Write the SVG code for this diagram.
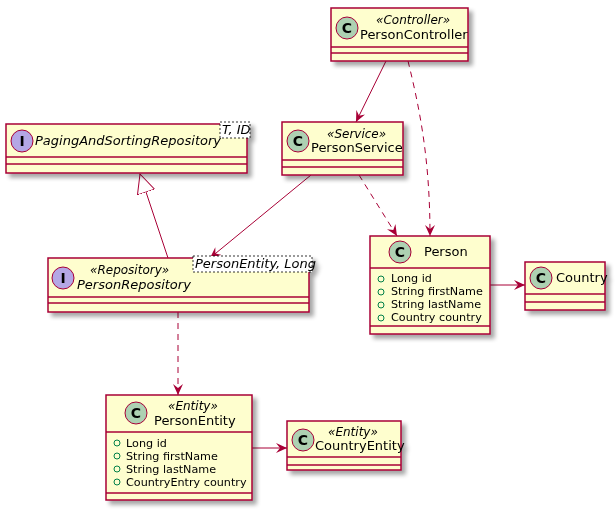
<svg xmlns="http://www.w3.org/2000/svg" width="615" height="510" viewBox="0 0 615 510">
<defs>
<filter id="sh" x="-10%" y="-10%" width="130%" height="140%"><feGaussianBlur in="SourceAlpha" stdDeviation="2"/><feOffset dx="4" dy="4"/><feComponentTransfer><feFuncA type="linear" slope="0.35"/></feComponentTransfer><feMerge><feMergeNode/><feMergeNode in="SourceGraphic"/></feMerge></filter>
<marker id="ar" viewBox="0 0 12 10" refX="11" refY="5" markerWidth="12" markerHeight="10" markerUnits="userSpaceOnUse" orient="auto"><path d="M0,0 L11,5 L0,10 L4,5 Z" fill="#A80036"/></marker>
<marker id="tri" viewBox="0 0 20 20" refX="19" refY="10" markerWidth="20" markerHeight="20" markerUnits="userSpaceOnUse" orient="auto"><path d="M0,1 L19,10 L0,19 Z" fill="#fff" stroke="#A80036"/></marker>
</defs>
<style>
.b{fill:#FEFECE;stroke:#A80036;stroke-width:1.5}
.l{stroke:#A80036;stroke-width:1.5}
.c{fill:#ADD1B2;stroke:#A80036;stroke-width:1}
.i{fill:#B4A7E5;stroke:#A80036;stroke-width:1}
text{font-family:"DejaVu Sans",sans-serif;font-size:13px;fill:#000}
.g{font-weight:bold;font-size:14px;text-anchor:middle}
.st{font-style:italic;font-size:12px}
.a{font-size:11.2px}
.p{fill:none;stroke:#038048}
.gen{fill:#fff;stroke:#000;stroke-width:0.8;stroke-dasharray:2,2}
.gt{font-style:italic;font-size:13px}
.e{fill:none;stroke:#A80036;stroke-width:1}
</style>
<g id="edges">
<path class="e" d="M386,61 L356,122" marker-end="url(#ar)"/>
<path class="e" d="M408,61 C420,110 430,160 430,236" stroke-dasharray="6,5" marker-end="url(#ar)"/>
<path class="e" d="M359,175 L397,236" stroke-dasharray="6,5" marker-end="url(#ar)"/>
<path class="e" d="M311,175 L210,258" marker-end="url(#ar)"/>
<path class="e" d="M168,258 L140,174" marker-end="url(#tri)"/>
<path class="e" d="M178,312 L178,395" stroke-dasharray="6,5" marker-end="url(#ar)"/>
<path class="e" d="M490,285 L525,285" marker-end="url(#ar)"/>
<path class="e" d="M252,448 L287,448" marker-end="url(#ar)"/>
</g>
<g id="PersonController" filter="url(#sh)">
<rect class="b" x="331" y="8" width="137" height="53"/>
<line class="l" x1="331" y1="47" x2="468" y2="47"/><line class="l" x1="331" y1="53" x2="468" y2="53"/>
<circle class="c" cx="347" cy="28" r="11"/><text class="g" x="347" y="33">C</text>
<text class="st" x="376" y="24">«Controller»</text>
<text x="360" y="39">PersonController</text>
</g>
<g id="PersonService" filter="url(#sh)">
<rect class="b" x="282" y="122" width="121" height="53"/>
<line class="l" x1="282" y1="160" x2="403" y2="160"/><line class="l" x1="282" y1="167" x2="403" y2="167"/>
<circle class="c" cx="298" cy="141" r="11"/><text class="g" x="298" y="146">C</text>
<text class="st" x="327" y="138">«Service»</text>
<text x="311" y="152">PersonService</text>
</g>
<g id="Person" filter="url(#sh)">
<rect class="b" x="370" y="236" width="120" height="98"/>
<line class="l" x1="370" y1="268" x2="490" y2="268"/><line class="l" x1="370" y1="326" x2="490" y2="326"/>
<circle class="c" cx="400" cy="252" r="11"/><text class="g" x="400" y="257">C</text>
<text x="424" y="256">Person</text>
<circle class="p" cx="381" cy="279" r="3"/><text class="a" x="391" y="282">Long id</text>
<circle class="p" cx="381" cy="292" r="3"/><text class="a" x="391" y="295">String firstName</text>
<circle class="p" cx="381" cy="305" r="3"/><text class="a" x="391" y="308">String lastName</text>
<circle class="p" cx="381" cy="318" r="3"/><text class="a" x="391" y="321">Country country</text>
</g>
<g id="Country" filter="url(#sh)">
<rect class="b" x="525" y="262" width="80" height="48"/>
<line class="l" x1="525" y1="294" x2="605" y2="294"/><line class="l" x1="525" y1="302" x2="605" y2="302"/>
<circle class="c" cx="541" cy="278" r="11"/><text class="g" x="541" y="283">C</text>
<text x="556" y="282">Country</text>
</g>
<g id="PagingAndSortingRepository" filter="url(#sh)">
<rect class="b" x="6" y="124" width="241" height="49"/>
<line class="l" x1="6" y1="157" x2="247" y2="157"/><line class="l" x1="6" y1="164" x2="247" y2="164"/>
<circle class="i" cx="22" cy="141" r="11"/><text class="g" x="22" y="146">I</text>
<text x="35" y="145" font-style="italic" font-size="12.5">PagingAndSortingRepository</text>
<rect class="gen" x="220" y="122" width="30" height="16"/>
<text class="gt" x="222" y="134">T, ID</text>
</g>
<g id="PersonRepository" filter="url(#sh)">
<rect class="b" x="48" y="258" width="261" height="54"/>
<line class="l" x1="48" y1="297" x2="309" y2="297"/><line class="l" x1="48" y1="303" x2="309" y2="303"/>
<circle class="i" cx="63" cy="278" r="11"/><text class="g" x="63" y="283">I</text>
<text class="st" x="90" y="274">«Repository»</text>
<text x="77" y="289" font-style="italic">PersonRepository</text>
<rect class="gen" x="193" y="256" width="119" height="16"/>
<text class="gt" x="195" y="268">PersonEntity, Long</text>
</g>
<g id="PersonEntity" filter="url(#sh)">
<rect class="b" x="106" y="395" width="146" height="105"/>
<line class="l" x1="106" y1="432" x2="252" y2="432"/><line class="l" x1="106" y1="493" x2="252" y2="493"/>
<circle class="c" cx="136" cy="413" r="11"/><text class="g" x="136" y="418">C</text>
<text class="st" x="168" y="410">«Entity»</text>
<text x="154" y="425">PersonEntity</text>
<circle class="p" cx="117" cy="443" r="3"/><text class="a" x="126" y="447">Long id</text>
<circle class="p" cx="117" cy="456" r="3"/><text class="a" x="126" y="460">String firstName</text>
<circle class="p" cx="117" cy="469" r="3"/><text class="a" x="126" y="473">String lastName</text>
<circle class="p" cx="117" cy="482" r="3"/><text class="a" x="126" y="486">CountryEntry country</text>
</g>
<g id="CountryEntity" filter="url(#sh)">
<rect class="b" x="287" y="421" width="114" height="49"/>
<line class="l" x1="287" y1="457" x2="401" y2="457"/><line class="l" x1="287" y1="465" x2="401" y2="465"/>
<circle class="c" cx="303" cy="440" r="11"/><text class="g" x="303" y="445">C</text>
<text class="st" x="328" y="436">«Entity»</text>
<text x="315" y="450">CountryEntity</text>
</g>
</svg>
